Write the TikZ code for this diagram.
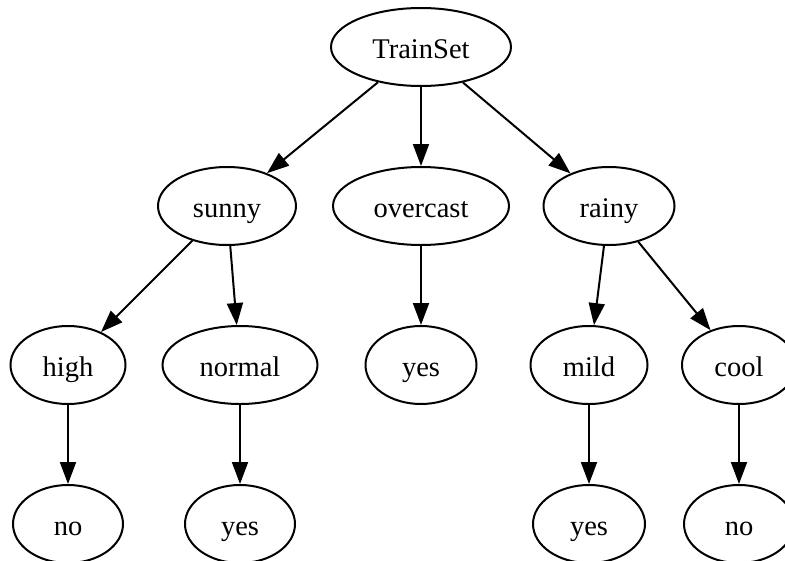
\documentclass[tikz,border=0pt]{standalone}
\usepackage{fontspec}
\setmainfont{Liberation Serif}
\usetikzlibrary{shapes.geometric,arrows.meta}
\begin{document}
\begin{tikzpicture}[x=1pt,y=-1pt,
  nd/.style={draw,ellipse,line width=2pt,inner sep=0pt,minimum height=78pt,
    text height=24pt,text depth=2pt,
    font=\fontsize{28.5}{30}\selectfont},
  edge/.style={line width=2pt,-{Triangle[length=22pt,width=16pt]}}]
\useasboundingbox (0,0) rectangle (785,560);
\node[nd,minimum width=180pt] (train) at (421,47) {TrainSet};
\node[nd,minimum width=138pt] (sunny) at (227,206) {sunny};
\node[nd,minimum width=176pt] (over) at (421,206) {overcast};
\node[nd,minimum width=131pt] (rainy) at (609,206) {rainy};
\node[nd,minimum width=115pt] (high) at (68,365) {high};
\node[nd,minimum width=155pt] (normal) at (240,365) {normal};
\node[nd,minimum width=111pt] (yes1) at (421,365) {yes};
\node[nd,minimum width=117pt] (mild) at (589,365) {mild};
\node[nd,minimum width=114pt] (cool) at (739,365) {cool};
\node[nd,minimum width=110pt] (no1) at (68,524) {no};
\node[nd,minimum width=110pt] (yes2) at (240,524) {yes};
\node[nd,minimum width=112pt] (yes3) at (589,524) {yes};
\node[nd,minimum width=110pt] (no2) at (739,524) {no};
\draw[edge] (train) -- (sunny);
\draw[edge] (train) -- (over);
\draw[edge] (train) -- (rainy);
\draw[edge] (sunny) -- (high);
\draw[edge] (sunny) -- (normal);
\draw[edge] (over) -- (yes1);
\draw[edge] (rainy) -- (mild);
\draw[edge] (rainy) -- (cool);
\draw[edge] (high) -- (no1);
\draw[edge] (normal) -- (yes2);
\draw[edge] (mild) -- (yes3);
\draw[edge] (cool) -- (no2);
\end{tikzpicture}
\end{document}
